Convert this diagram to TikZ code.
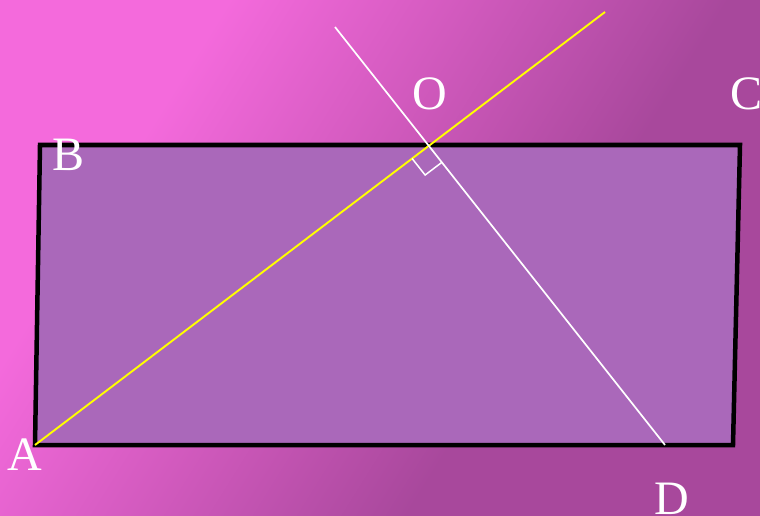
\documentclass[tikz,border=0pt]{standalone}
\usepackage{fontspec}
\setmainfont{Liberation Serif}
\usetikzlibrary{calc}
\definecolor{bgpink}{RGB}{244,106,220}
\definecolor{bgmid}{RGB}{210,90,190}
\definecolor{bgdark}{RGB}{168,72,156}
\definecolor{fillpurple}{RGB}{170,104,186}
\definecolor{lineyellow}{RGB}{255,255,0}
\pgfdeclarehorizontalshading{bgshade}{100bp}{color(0bp)=(bgpink); color(30bp)=(bgpink); color(45bp)=(bgmid); color(62bp)=(bgdark); color(100bp)=(bgdark)}
\begin{document}
\begin{tikzpicture}[x=1pt,y=-1pt,
  lab/.style={text=white, font=\fontsize{48}{48}\selectfont, inner sep=0pt, anchor=base},
  frame/.style={draw=black, line width=4.5pt, fill=fillpurple, line join=miter},
  yline/.style={draw=lineyellow, line width=1.9pt},
  wline/.style={draw=white, line width=1.7pt}]
\useasboundingbox (0,0) rectangle (760,516);
\fill[shading=bgshade, shading angle=-32] (0,0) rectangle (760,516);
\coordinate (B) at (40,145);
\coordinate (C) at (740,145);
\coordinate (Dc) at (733,445);
\coordinate (A) at (35,445);
\coordinate (Y2) at (605,12);
\coordinate (W1) at (335,27);
\coordinate (W2) at (665,445);
\path[frame] (B) -- (C) -- (Dc) -- (A) -- cycle;
\draw[yline] (A) -- (Y2);
\draw[wline] (W1) -- (W2);
\coordinate (O) at (intersection of A--Y2 and W1--W2);
\coordinate (P1) at ($(O)!21pt!(A)$);
\coordinate (P2) at ($(O)!21pt!(W2)$);
\coordinate (P3) at ($(P1)+(P2)-(O)$);
\draw[wline, line width=1.5pt] (P1) -- (P3) -- (P2);
\node[lab] (lO) at (430,110) {O};
\node[lab] (lC) at (746,110) {C};
\node[lab] (lB) at (69,170) {B};
\node[lab] (lA) at (25,470) {A};
\node[lab] (lD) at (672,514) {D};
\end{tikzpicture}
\end{document}
